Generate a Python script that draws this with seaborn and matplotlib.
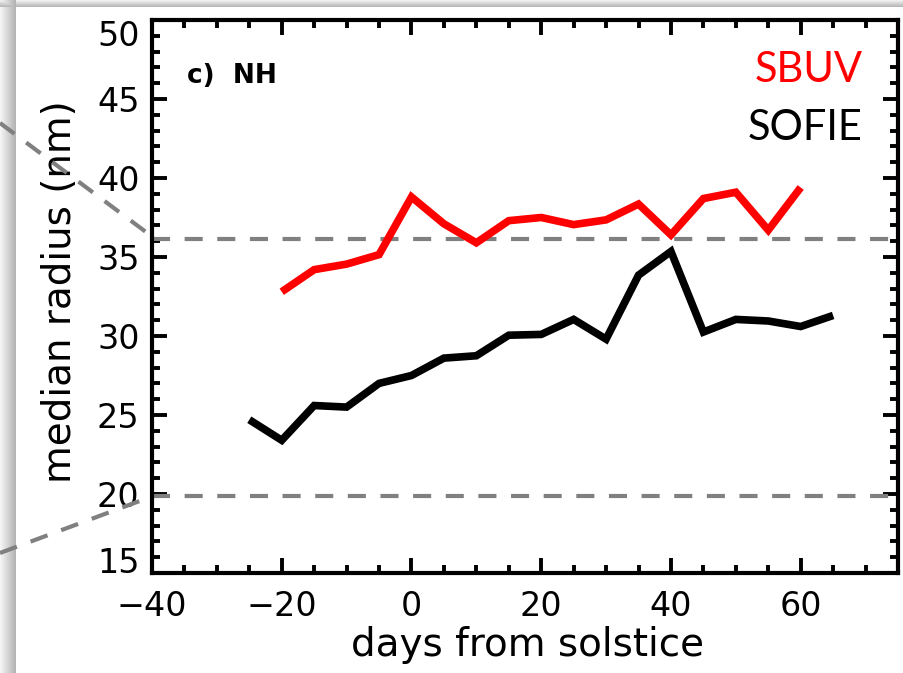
import numpy as np
import pandas as pd
import matplotlib
matplotlib.use("Agg")
import matplotlib.pyplot as plt
import seaborn as sns
from matplotlib.lines import Line2D
from matplotlib.ticker import MultipleLocator

# Median particle radius (nm) versus days from solstice, northern hemisphere
days_sbuv = [-20, -15, -10, -5, 0, 5, 10, 15, 20, 25, 30, 35, 40, 45, 50, 55, 60]
radius_sbuv = [32.8, 34.2, 34.55, 35.15, 38.8, 37.1, 35.9, 37.3, 37.5, 37.05,
               37.35, 38.35, 36.4, 38.7, 39.1, 36.7, 39.4]

days_sofie = [-25, -20, -15, -10, -5, 0, 5, 10, 15, 20, 25, 30, 35, 40, 45, 50,
              55, 60, 65]
radius_sofie = [24.7, 23.4, 25.6, 25.5, 27.0, 27.5, 28.6, 28.75, 30.05, 30.1,
                31.05, 29.8, 33.85, 35.35, 30.25, 31.05, 30.95, 30.6, 31.3]

instruments = ["SBUV", "SOFIE"]
ref_levels = [36.15, 19.9]
xticks = [-40, -20, 0, 20, 40, 60]
yticks = [15, 20, 25, 30, 35, 40, 45, 50]

df = pd.concat([
    pd.DataFrame({"days": days_sbuv, "radius": radius_sbuv, "instrument": instruments[0]}),
    pd.DataFrame({"days": days_sofie, "radius": radius_sofie, "instrument": instruments[1]}),
], ignore_index=True)

sns.set_style("ticks")
plt.rcParams["font.family"] = ["DejaVu Sans"]
plt.rcParams["lines.scale_dashes"] = False
for key in ["text.color", "axes.labelcolor", "xtick.color", "ytick.color",
            "axes.edgecolor"]:
    plt.rcParams[key] = "black"

W, H = 904, 673
fig = plt.figure(figsize=(W / 100, H / 100), dpi=100)

# slide background: white panel with a soft grey shadow on the top and left
bx, by = 16, 7
xs = np.arange(W)
ys = np.arange(H)
lx = np.where(xs < bx, 0.96 - 0.26 * (xs / (bx - 1)), 1.0)
ty = np.where(ys < by, 0.94 - 0.22 * (ys / (by - 1)), 1.0)
bg = np.minimum(lx[None, :], ty[:, None])
bg_ax = fig.add_axes([0, 0, 1, 1], zorder=0)
bg_ax.imshow(bg, cmap="gray", vmin=0, vmax=1, aspect="auto", interpolation="nearest")
bg_ax.axis("off")

# main panel
x0, x1, y0, y1 = 152, 898, 20, 573
ax = fig.add_axes([x0 / W, 1 - y1 / H, (x1 - x0) / W, (y1 - y0) / H], zorder=1)
ax.set_facecolor("white")

grey = "#808080"
for lvl in ref_levels:
    ax.axhline(lvl, color=grey, lw=3.0, dashes=(13, 10.5), zorder=1)

sns.lineplot(data=df, x="days", y="radius", hue="instrument",
             palette={"SBUV": "#ff0000", "SOFIE": "#000000"},
             linewidth=5.5, legend=False, ax=ax, zorder=3,
             solid_capstyle="butt", solid_joinstyle="miter", sort=False,
             estimator=None)

ax.set_xlim(-40, 75)
ax.set_ylim(15, 50)
ax.set_xticks(xticks)
ax.set_yticks(yticks)
ax.xaxis.set_minor_locator(MultipleLocator(5))
ax.yaxis.set_minor_locator(MultipleLocator(1))
ax.tick_params(which="both", direction="in", top=True, right=True,
               width=2.8, color="black")
ax.tick_params(which="major", length=11, labelsize=24)
ax.tick_params(which="minor", length=6)
ax.tick_params(axis="y", which="major", pad=9)
ax.tick_params(axis="x", which="major", pad=12)
for s in ax.spines.values():
    s.set_linewidth(3.0)
    s.set_color("black")

# keep the end labels of the radius axis inside the frame
ylabels = ax.get_yticklabels()
ylabels[0].set_verticalalignment("baseline")
ylabels[-1].set_verticalalignment("top")

ax.set_xlabel("days from solstice", fontsize=28)
ax.set_ylabel("median radius (nm)", fontsize=28)
ax.xaxis.set_label_coords(0.503, -0.095)
ax.yaxis.set_label_coords(-0.098, 0.508)

ax.text(-34.6, 46.0, "c)  NH", fontsize=19, fontweight="bold", color="black")

ax.text(0.953, 0.888, "SBUV", transform=ax.transAxes, ha="right", va="baseline",
        fontsize=30, color="#ff0000", family=["Lato", "DejaVu Sans"])
ax.text(0.953, 0.783, "SOFIE", transform=ax.transAxes, ha="right", va="baseline",
        fontsize=30, color="black", family=["Lato", "DejaVu Sans"])

# zoom callout lines reaching in from the left
def fig_line(p, q):
    fig.add_artist(Line2D([p[0] / W, q[0] / W], [1 - p[1] / H, 1 - q[1] / H],
                          transform=fig.transFigure, color=grey, lw=3.0,
                          dashes=(13, 10.5), zorder=5))

fig_line((0, 123), (154, 238))
fig_line((0, 553), (145, 499))

fig.savefig("out.png", dpi=100)
